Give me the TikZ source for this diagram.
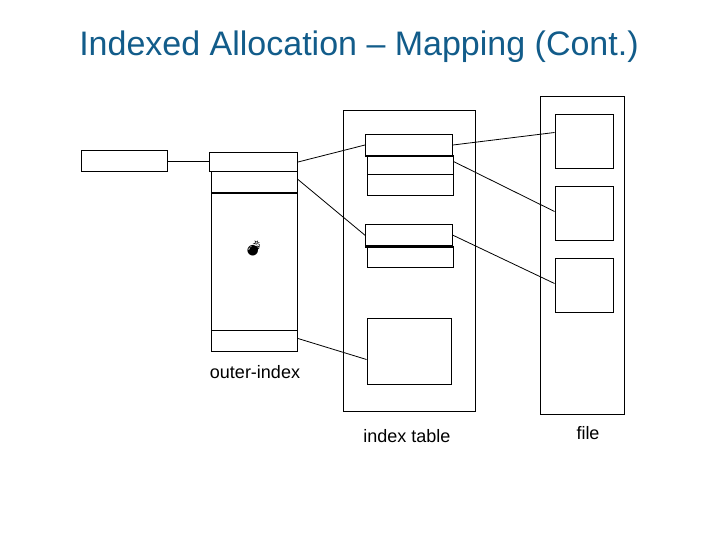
\documentclass[tikz,border=0pt]{standalone}
\usepackage{fontspec}
\setmainfont{Liberation Sans}
\newfontfamily\emojifont{Noto Emoji}
\definecolor{titleblue}{RGB}{18,92,138}
\begin{document}
\begin{tikzpicture}[x=1pt,y=-1pt,
  rect/.style={draw,line width=1pt,inner sep=0pt,anchor=north west},
  conn/.style={draw,line width=0.8pt},
  sep/.style={line width=2.4pt},
  lbl/.style={font=\fontsize{18}{20}\selectfont,inner sep=0pt}]
\useasboundingbox (0,0) rectangle (720,540);
\node[text=titleblue,font=\fontsize{34}{40}\selectfont,inner sep=0pt] (title) at (359,47) {Indexed Allocation – Mapping (Cont.)};
% left pointer box
\node[rect,minimum width=86pt,minimum height=21pt] (ptr) at (81,150) {};
% outer index column
\node[rect,minimum width=86pt,minimum height=180pt] (outer) at (211,171) {};
\node[rect,minimum width=88pt,minimum height=19pt] (o1) at (209,152) {};
\node[rect,minimum width=86pt,minimum height=21pt] (o2) at (211,171) {};
\node[rect,minimum width=86pt,minimum height=21pt] (on) at (211,330) {};
\draw[sep] (o2.south west) -- (o2.south east);
\node[font=\emojifont\fontsize{15}{16}\selectfont,inner sep=0pt] (bomb) at (254,248) {💣};
\node[lbl] (olbl) at (255,372) {outer-index};
% index table
\node[rect,minimum width=132pt,minimum height=301pt] (itab) at (343,110) {};
\node[rect,minimum width=87pt,minimum height=21pt] (a1) at (365,134) {};
\node[rect,minimum width=86pt,minimum height=19pt] (a2) at (366.5,155.5) {};
\node[rect,minimum width=86pt,minimum height=21pt] (a3) at (366.5,174.5) {};
\draw[sep] (a1.south west) -- (a1.south east);
\node[rect,minimum width=87pt,minimum height=21.5pt] (b1) at (365,224) {};
\node[rect,minimum width=86pt,minimum height=21.5pt] (b2) at (366.5,245.5) {};
\draw[sep] (b1.south west) -- (b1.south east);
\node[rect,minimum width=84pt,minimum height=66pt] (c1) at (366.5,318) {};
\node[lbl] (ilbl) at (407,436) {index table};
% file
\node[rect,minimum width=84pt,minimum height=318pt] (file) at (540,96) {};
\node[rect,minimum width=58pt,minimum height=54pt] (f1) at (554.5,114) {};
\node[rect,minimum width=58pt,minimum height=54pt] (f2) at (554.5,186) {};
\node[rect,minimum width=58pt,minimum height=54pt] (f3) at (554.5,258) {};
\node[lbl] (flbl) at (588,433) {file};
% connectors
\draw[conn] (ptr.east) -- (ptr.east -| o1.west);
\draw[conn] (o1.east) -- (a1.west);
\draw[conn] ([yshift=2.5pt]o2.east) -- (b1.west);
\draw[conn] ([yshift=2.5pt]on.east) -- ([yshift=-8pt]c1.west);
\draw[conn] (a1.east) -- ([yshift=9pt]f1.west);
\draw[conn] ([yshift=4pt]a2.east) -- ([yshift=2pt]f2.west);
\draw[conn] (b1.east) -- ([yshift=2pt]f3.west);
\end{tikzpicture}
\end{document}
